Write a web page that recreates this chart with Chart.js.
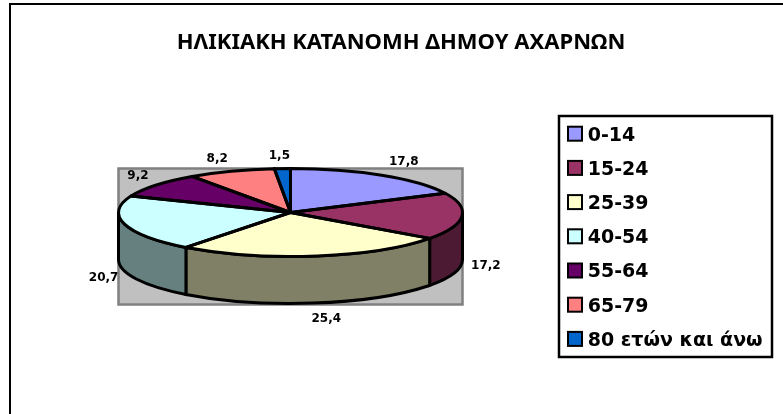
<html>
    <head>
        <title>ΗΛΙΚΙΑΚΗ ΚΑΤΑΝΟΜΗ ΔΗΜΟΥ ΑΧΑΡΝΩΝ</title>
        <style>
            body { margin: 0; background: #ffffff; }
            canvas { display: block; }
        </style>
    </head>
    <body>
        <canvas id="myChart" width="783" height="414"></canvas>
        <script src="https://cdn.jsdelivr.net/npm/chart.js@4/dist/chart.umd.min.js"></script>
        <script>
            const chart_title = "ΗΛΙΚΙΑΚΗ ΚΑΤΑΝΟΜΗ ΔΗΜΟΥ ΑΧΑΡΝΩΝ";
            const age_groups = ["0-14", "15-24", "25-39", "40-54", "55-64", "65-79", "80 ετών και άνω"];
            const percentages = [17.8, 17.2, 25.4, 20.7, 9.2, 8.2, 1.5];

            const top_colors = ["#9999FF", "#993366", "#FFFFCC", "#CCFFFF", "#660066", "#FF8080", "#0066CC"];
            const side_colors = ["#4D4D80", "#4D1A33", "#808066", "#668080", "#330033", "#804040", "#003366"];

            // how far each value label sits from the rim point of its slice
            const label_offsets = [[22, -13], [24, 50], [11, 63], [-21, 54], [-18, -9], [-14, -12], [-3, -13]];

            const tilt = 44 / 172; // flattening of the pie
            const depth = 47;      // height of the pie wall
            const pie_box = { left: 118.5, right: 462.5, top: 40.5, bottom: 384.5 };
            const legend_box = { left: 559, right: 772, top: 116, bottom: 357 };
            const legend_font_size = 19;
            const legend_padding = 15.2;

            function firstArc(chart) {
                return chart.getDatasetMeta(0).data[0];
            }

            function flatten(ctx, cy) {
                ctx.translate(0, cy);
                ctx.scale(1, tilt);
                ctx.translate(0, -cy);
            }

            // grey plot panel, walls of the front half, then squash the top face
            function drawPanelAndWalls(chart) {
                var ctx = chart.ctx;
                var arcs = chart.getDatasetMeta(0).data;
                var cx = arcs[0].x, cy = arcs[0].y, rx = arcs[0].outerRadius, ry = rx * tilt;

                ctx.fillStyle = "#C0C0C0";
                ctx.strokeStyle = "#808080";
                ctx.lineWidth = 2.5;
                ctx.fillRect(cx - rx, cy - ry, rx * 2, ry * 2 + depth + 1);
                ctx.strokeRect(cx - rx, cy - ry, rx * 2, ry * 2 + depth + 1);

                ctx.strokeStyle = "#000000";
                ctx.lineWidth = 3;
                for (var i = 0; i < arcs.length; i++) {
                    var a = Math.max(arcs[i].startAngle, 0);
                    var b = Math.min(arcs[i].endAngle, Math.PI);
                    if (b <= a) continue;
                    ctx.beginPath();
                    ctx.ellipse(cx, cy, rx, ry, 0, a, b);
                    ctx.ellipse(cx, cy + depth, rx, ry, 0, b, a, true);
                    ctx.closePath();
                    ctx.fillStyle = side_colors[i];
                    ctx.fill();
                    ctx.stroke();
                }
            }

            function drawSliceOutlines(chart) {
                var ctx = chart.ctx;
                var arcs = chart.getDatasetMeta(0).data;
                ctx.strokeStyle = "#000000";
                ctx.lineWidth = 3;
                ctx.lineJoin = "round";
                for (var i = 0; i < arcs.length; i++) {
                    var arc = arcs[i], ry = arc.outerRadius * tilt;
                    ctx.beginPath();
                    ctx.moveTo(arc.x, arc.y);
                    ctx.ellipse(arc.x, arc.y, arc.outerRadius, ry, 0, arc.startAngle, arc.endAngle);
                    ctx.closePath();
                    ctx.stroke();
                }
            }

            function drawValueLabels(chart) {
                var ctx = chart.ctx;
                var arcs = chart.getDatasetMeta(0).data;
                ctx.save();
                ctx.fillStyle = "#000000";
                ctx.font = "bold 12px 'DejaVu Sans'";
                ctx.textAlign = "center";
                ctx.textBaseline = "middle";
                for (var i = 0; i < arcs.length; i++) {
                    var mid = (arcs[i].startAngle + arcs[i].endAngle) / 2;
                    var x = arcs[i].x + arcs[i].outerRadius * Math.cos(mid) + label_offsets[i][0];
                    var y = arcs[i].y + arcs[i].outerRadius * tilt * Math.sin(mid) + label_offsets[i][1];
                    ctx.fillText(String(percentages[i]).replace(".", ","), x, y);
                }
                ctx.restore();
            }

            // the legend's own gap after the box grows with the font, too wide here,
            // so its box stays empty and the swatches are drawn a little further left
            function drawLegendSwatches(chart) {
                var ctx = chart.ctx;
                var legend = chart.legend;
                ctx.save();
                ctx.strokeStyle = "#000000";
                ctx.lineWidth = 2;
                legend.legendItems.forEach(function(item, i) {
                    var y = legend.top + legend_padding + i * (legend_font_size + legend_padding) + legend_font_size / 2;
                    ctx.fillStyle = top_colors[i];
                    ctx.fillRect(568, y - 9, 14, 14);
                    ctx.strokeRect(568, y - 9, 14, 14);
                });
                ctx.restore();
            }

            const excelLook = {
                id: "excelLook",
                afterLayout: function(chart) {
                    // the old spreadsheet layout does not follow the normal box flow
                    chart.chartArea = {
                        left: pie_box.left, right: pie_box.right, top: pie_box.top, bottom: pie_box.bottom,
                        width: pie_box.right - pie_box.left, height: pie_box.bottom - pie_box.top
                    };
                    var legend = chart.legend;
                    var w = legend.width, h = legend.height;
                    legend.left = 552; legend.right = 552 + w;
                    legend.top = 111; legend.bottom = 111 + h;
                    var title = chart.titleBlock;
                    title.left = 20; title.right = 782;
                    title.top = 30; title.bottom = 58;
                },
                beforeDraw: function(chart) {
                    var ctx = chart.ctx;
                    ctx.save();
                    // outer frame: only the top and left edges are in the picture
                    ctx.strokeStyle = "#000000";
                    ctx.lineWidth = 2;
                    ctx.beginPath();
                    ctx.moveTo(783, 4);
                    ctx.lineTo(10, 4);
                    ctx.lineTo(10, 414);
                    ctx.stroke();
                    // legend frame
                    ctx.lineWidth = 2.5;
                    ctx.strokeRect(legend_box.left, legend_box.top,
                        legend_box.right - legend_box.left, legend_box.bottom - legend_box.top);
                    ctx.restore();
                },
                beforeDatasetDraw: function(chart) {
                    var ctx = chart.ctx;
                    ctx.save();
                    drawPanelAndWalls(chart);
                    flatten(ctx, firstArc(chart).y);
                },
                afterDatasetDraw: function(chart) {
                    chart.ctx.restore();
                    chart.ctx.save();
                    drawSliceOutlines(chart);
                    chart.ctx.restore();
                    drawValueLabels(chart);
                },
                afterDraw: function(chart) {
                    drawLegendSwatches(chart);
                }
            };

            var ctx = document.getElementById("myChart").getContext("2d");
            var chart = new Chart(ctx, {
                type: "pie",
                data: {
                    labels: age_groups,
                    datasets: [{
                        data: percentages,
                        backgroundColor: top_colors,
                        borderWidth: 0,
                        clip: false
                    }]
                },
                options: {
                    responsive: false,
                    animation: false,
                    events: [],
                    plugins: {
                        title: {
                            display: true,
                            text: chart_title,
                            color: "#000000",
                            padding: 0,
                            font: { family: "'Noto Sans'", size: 22, weight: "bold" }
                        },
                        legend: {
                            position: "right",
                            align: "start",
                            labels: {
                                color: "#000000",
                                boxWidth: 11,
                                boxHeight: 14,
                                padding: legend_padding,
                                font: { family: "'DejaVu Sans'", size: legend_font_size, weight: "bold" },
                                generateLabels: function(chart) {
                                    var items = Chart.overrides.pie.plugins.legend.labels.generateLabels(chart);
                                    items.forEach(function(item) {
                                        item.fillStyle = "rgba(0,0,0,0)";
                                        item.lineWidth = 0;
                                    });
                                    return items;
                                }
                            }
                        },
                        tooltip: { enabled: false }
                    }
                },
                plugins: [excelLook]
            });
        </script>
    </body>
</html>
